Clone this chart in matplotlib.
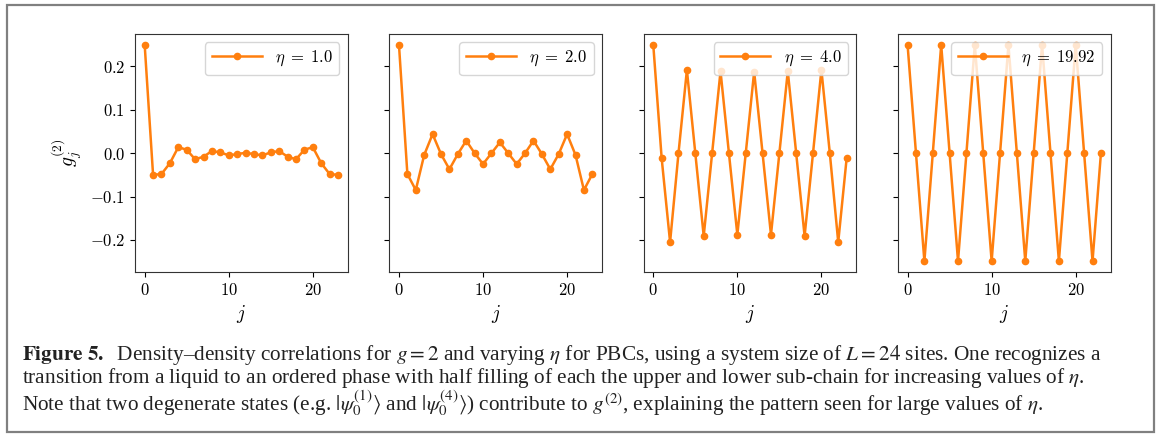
import numpy as np
import matplotlib
matplotlib.use('Agg')
import matplotlib.pyplot as plt
from matplotlib.patches import Rectangle

plt.rcParams['font.family'] = 'serif'
plt.rcParams['font.serif'] = ['cmr10']
plt.rcParams['mathtext.fontset'] = 'cm'
plt.rcParams['axes.formatter.use_mathtext'] = True
plt.rcParams['axes.unicode_minus'] = True

sites = np.arange(24)
etas = ['1.0', '2.0', '4.0', '19.92']

g_eta1 = [0.25, -0.05, -0.048, -0.023, 0.014, 0.008, -0.014, -0.008, 0.005, 0.002, -0.005, -0.002,
          0.001, -0.002, -0.005, 0.002, 0.005, -0.008, -0.014, 0.008, 0.014, -0.023, -0.048, -0.05]
g_eta2 = [0.25, -0.048, -0.085, -0.004, 0.044, -0.002, -0.037, -0.002, 0.029, 0.0, -0.025, 0.0,
          0.025, 0.0, -0.025, 0.0, 0.029, -0.002, -0.037, -0.002, 0.044, -0.004, -0.085, -0.048]
g_eta4 = [0.25, -0.012, -0.205, 0.0, 0.192, 0.0, -0.191, 0.0, 0.189, 0.0, -0.188, 0.0,
          0.188, 0.0, -0.188, 0.0, 0.189, 0.0, -0.191, 0.0, 0.192, 0.0, -0.205, -0.012]
g_eta20 = [0.25, 0.0, -0.249, 0.0, 0.25, 0.0, -0.249, 0.0, 0.25, 0.0, -0.249, 0.0,
           0.25, 0.0, -0.249, 0.0, 0.25, 0.0, -0.249, 0.0, 0.25, 0.0, -0.249, 0.0]
series = [g_eta1, g_eta2, g_eta4, g_eta20]

W, H = 1163, 436
fig = plt.figure(figsize=(W / 100, H / 100), dpi=100)

left, width, step = 135 / W, 212.7 / W, 254.3 / W
bottom, top = 1 - 272 / H, 1 - 34 / H
axes = []
for i in range(4):
    ax = fig.add_axes([left + i * step, bottom, width, top - bottom],
                      sharey=axes[0] if axes else None)
    axes.append(ax)

for i, ax in enumerate(axes):
    ax.plot(sites, series[i], '-o', color='#ff7f0e', lw=1.8, ms=4.5,
            label=r'$\eta\;=\;%s$' % etas[i])
    ax.legend(loc='upper right', fontsize=12, handlelength=3.0)
    ax.set_xlabel('$j$', fontsize=14)
    ax.set_xticks([0, 10, 20])
    ax.tick_params(labelsize=12)
    for s in ax.spines.values():
        s.set_color('#333333')
    if i > 0:
        ax.tick_params(labelleft=False)

axes[0].set_yticks([-0.2, -0.1, 0.0, 0.1, 0.2])
axes[0].set_ylabel('$g_j^{(2)}$', fontsize=14)

# caption
cap = dict(family='Liberation Serif', math_fontfamily='stix', fontsize=15.3,
           va='baseline', ha='left', color='#222222')
fig.text(22 / W, 1 - 360 / H,
         r'$\mathbf{Figure\ 5.}$  Density–density correlations for $g = 2$ and varying $\eta$ for PBCs, '
         r'using a system size of $L = 24$ sites. One recognizes a', **cap)
fig.text(22 / W, 1 - 383 / H,
         r'transition from a liquid to an ordered phase with half filling of each the upper and lower '
         r'sub-chain for increasing values of $\eta$.', **cap)
fig.text(22 / W, 1 - 411 / H,
         r'Note that two degenerate states (e.g. $|\psi_0^{(1)}\rangle$ and $|\psi_0^{(4)}\rangle$) '
         r'contribute to $g^{(2)}$, explaining the pattern seen for large values of $\eta$.', **cap)

fig.patches.append(Rectangle((7 / W, 1 - 432 / H), 1147 / W, 427 / H, transform=fig.transFigure,
                             fill=False, edgecolor='#808080', lw=1.6))

fig.savefig('out.png', dpi=100)
